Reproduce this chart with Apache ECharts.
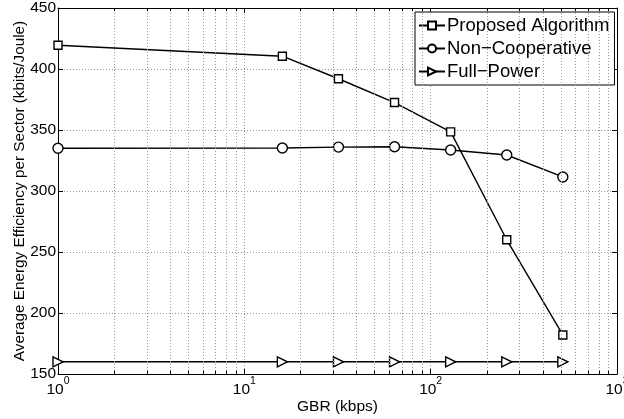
<!DOCTYPE html>
<html><head><meta charset="utf-8">
<script src="https://cdn.jsdelivr.net/npm/echarts@6/dist/echarts.min.js"></script>
<style>html,body{margin:0;padding:0;background:#fff}#c{width:624px;height:419px}</style>
</head><body><div id="c"></div>
<script>
const gbr = [1, 16, 32, 64, 128, 256, 512];
const proposed = [419.5, 410.5, 392, 372.5, 348.5, 260, 182];
const nonCoop = [335, 335.3, 336, 336.3, 333.6, 329.5, 311.5];
const fullPower = [160, 160, 160, 160, 160, 160, 160];
const minorX = [2,3,4,5,6,7,8,9,20,30,40,50,60,70,80,90,200,300,400,500,600,700,800,900];
const Y_MIN = 150, Y_MAX = 450, Y_STEP = 50;
const MINOR_TICK_LEN = 2.6; // in y data units (~3px)

const FONT = 'Liberation Sans, Arial, sans-serif';
const gridStyle = {color: '#9a9a9a', width: 1, type: [1, 2]};
function pairs(ys) { return gbr.map((x, i) => [x, ys[i]]); }
const chart = echarts.init(document.getElementById('c'), null, {renderer: 'canvas'});
const lineCommon = {
  type: 'line', clip: false, showAllSymbol: true,
  lineStyle: {color: '#000', width: 1.4},
  itemStyle: {color: '#fff', borderColor: '#000', borderWidth: 1.4},
  emphasis: {disabled: true}, animation: false
};
const minorTickLines = [];
minorX.forEach(x => {
  minorTickLines.push([{coord: [x, Y_MIN]}, {coord: [x, Y_MIN + MINOR_TICK_LEN]}]);
  minorTickLines.push([{coord: [x, Y_MAX]}, {coord: [x, Y_MAX - MINOR_TICK_LEN]}]);
});
chart.setOption({
  animation: false,
  textStyle: {fontFamily: FONT},
  grid: {left: 58, right: 7, top: 8, bottom: 45, outerBoundsMode: 'none', containLabel: false},
  legend: {
    orient: 'vertical', left: 415, top: 12,
    backgroundColor: '#fff', borderColor: '#000', borderWidth: 1,
    padding: [4, 5, 4, 3], itemGap: 4, itemWidth: 26, itemHeight: 10,
    textStyle: {fontSize: 18.5, color: '#000', fontFamily: FONT, padding: [0, 0, 0, -3]},
    data: ['Proposed Algorithm', 'Non\u2212Cooperative', 'Full\u2212Power']
  },
  xAxis: [{
    type: 'log', logBase: 10, min: 1, max: 1000,
    name: 'GBR (kbps)', nameLocation: 'middle', nameGap: 25, nameMoveOverlap: false,
    nameTextStyle: {fontSize: 15.5, color: '#000', fontFamily: FONT},
    axisLine: {onZero: false, lineStyle: {color: '#000', width: 1}},
    axisTick: {inside: true, length: 5, lineStyle: {color: '#000'}},
    axisLabel: {
      margin: 2, color: '#000',
      formatter: v => '{b|10}{s|' + Math.round(Math.log10(v)) + '}',
      rich: {
        b: {fontSize: 15.5, fontFamily: FONT, color: '#000', verticalAlign: 'bottom', lineHeight: 22},
        s: {fontSize: 10.5, fontFamily: FONT, color: '#000', verticalAlign: 'top', lineHeight: 22}
      }
    },
    splitLine: {show: true, lineStyle: gridStyle}
  }, {
    type: 'log', logBase: 10, min: 1, max: 1000, position: 'top',
    axisLine: {onZero: false, lineStyle: {color: '#000', width: 1}},
    axisTick: {inside: true, length: 5, lineStyle: {color: '#000'}},
    axisLabel: {show: false}, splitLine: {show: false}
  }],
  yAxis: [{
    type: 'value', min: Y_MIN, max: Y_MAX, interval: Y_STEP,
    name: 'Average Energy Efficiency per Sector (kbits/Joule)',
    nameLocation: 'middle', nameGap: 31, nameMoveOverlap: false,
    nameTextStyle: {fontSize: 15.3, color: '#000', fontFamily: FONT},
    axisLine: {show: true, lineStyle: {color: '#000', width: 1}},
    axisTick: {show: true, inside: true, length: 5, lineStyle: {color: '#000'}},
    axisLabel: {fontSize: 15.5, color: '#000', margin: 2, fontFamily: FONT},
    splitLine: {show: true, lineStyle: gridStyle}
  }, {
    type: 'value', min: Y_MIN, max: Y_MAX, interval: Y_STEP, position: 'right',
    axisLine: {show: true, lineStyle: {color: '#000', width: 1}},
    axisTick: {show: true, inside: true, length: 5, lineStyle: {color: '#000'}},
    axisLabel: {show: false}, splitLine: {show: false}
  }],
  series: [
    {
      type: 'line', name: '_minor', data: [], silent: true,
      markLine: {
        silent: true, symbol: 'none', animation: false, label: {show: false},
        lineStyle: gridStyle, emphasis: {disabled: true},
        data: minorX.map(x => ({xAxis: x}))
      }
    },
    {
      type: 'line', name: '_minorTicks', data: [], silent: true,
      markLine: {
        silent: true, symbol: 'none', animation: false, label: {show: false},
        lineStyle: {color: '#000', width: 1, type: 'solid'}, emphasis: {disabled: true},
        data: minorTickLines
      }
    },
    Object.assign({}, lineCommon, {name: 'Proposed Algorithm', symbol: 'rect', symbolSize: 8, data: pairs(proposed)}),
    Object.assign({}, lineCommon, {name: 'Non\u2212Cooperative', symbol: 'circle', symbolSize: 10, data: pairs(nonCoop)}),
    Object.assign({}, lineCommon, {name: 'Full\u2212Power', symbol: 'triangle', symbolRotate: -90, symbolSize: 10, data: pairs(fullPower)})
  ]
});
</script></body></html>
